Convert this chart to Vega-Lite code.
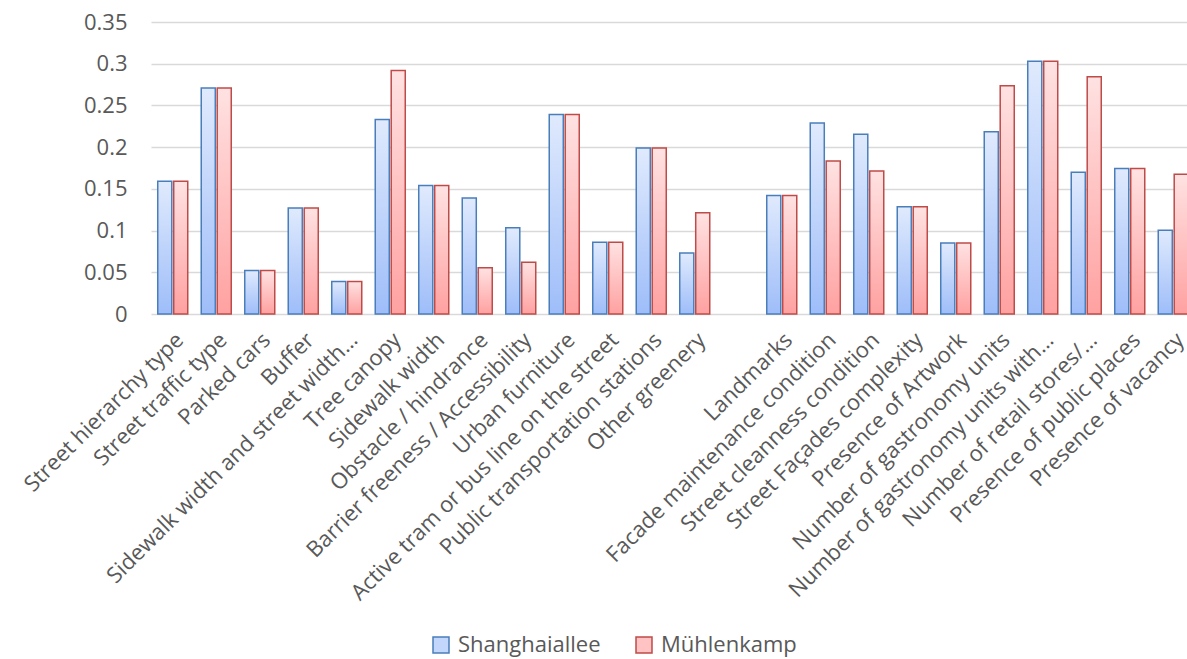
{
  "$schema": "https://vega.github.io/schema/vega-lite/v6.json",
  "width": 1036,
  "height": 292,
  "autosize": {"type": "none"},
  "padding": {"left": 151, "top": 22, "right": 0, "bottom": 345},
  "background": "white",
  "config": {"view": {"stroke": null}, "font": "Open Sans"},
  "data": {
    "values": [
      {"cat": "Street hierarchy type", "series": "Shanghaiallee", "value": 0.159},
      {"cat": "Street hierarchy type", "series": "Mühlenkamp", "value": 0.159},
      {"cat": "Street traffic type", "series": "Shanghaiallee", "value": 0.271},
      {"cat": "Street traffic type", "series": "Mühlenkamp", "value": 0.271},
      {"cat": "Parked cars", "series": "Shanghaiallee", "value": 0.052},
      {"cat": "Parked cars", "series": "Mühlenkamp", "value": 0.052},
      {"cat": "Buffer", "series": "Shanghaiallee", "value": 0.127},
      {"cat": "Buffer", "series": "Mühlenkamp", "value": 0.127},
      {"cat": "Sidewalk width and street width…", "series": "Shanghaiallee", "value": 0.039},
      {"cat": "Sidewalk width and street width…", "series": "Mühlenkamp", "value": 0.039},
      {"cat": "Tree canopy", "series": "Shanghaiallee", "value": 0.233},
      {"cat": "Tree canopy", "series": "Mühlenkamp", "value": 0.292},
      {"cat": "Sidewalk width", "series": "Shanghaiallee", "value": 0.154},
      {"cat": "Sidewalk width", "series": "Mühlenkamp", "value": 0.154},
      {"cat": "Obstacle / hindrance", "series": "Shanghaiallee", "value": 0.139},
      {"cat": "Obstacle / hindrance", "series": "Mühlenkamp", "value": 0.0555},
      {"cat": "Barrier freeness / Accessibility", "series": "Shanghaiallee", "value": 0.1035},
      {"cat": "Barrier freeness / Accessibility", "series": "Mühlenkamp", "value": 0.062},
      {"cat": "Urban furniture", "series": "Shanghaiallee", "value": 0.239},
      {"cat": "Urban furniture", "series": "Mühlenkamp", "value": 0.239},
      {"cat": "Active tram or bus line on the street", "series": "Shanghaiallee", "value": 0.086},
      {"cat": "Active tram or bus line on the street", "series": "Mühlenkamp", "value": 0.086},
      {"cat": "Public transportation stations", "series": "Shanghaiallee", "value": 0.199},
      {"cat": "Public transportation stations", "series": "Mühlenkamp", "value": 0.199},
      {"cat": "Other greenery", "series": "Shanghaiallee", "value": 0.073},
      {"cat": "Other greenery", "series": "Mühlenkamp", "value": 0.1215},
      {"cat": "Landmarks", "series": "Shanghaiallee", "value": 0.142},
      {"cat": "Landmarks", "series": "Mühlenkamp", "value": 0.142},
      {"cat": "Facade maintenance condition", "series": "Shanghaiallee", "value": 0.229},
      {"cat": "Facade maintenance condition", "series": "Mühlenkamp", "value": 0.1835},
      {"cat": "Street cleanness condition", "series": "Shanghaiallee", "value": 0.2155},
      {"cat": "Street cleanness condition", "series": "Mühlenkamp", "value": 0.1715},
      {"cat": "Street Façades complexity", "series": "Shanghaiallee", "value": 0.1285},
      {"cat": "Street Façades complexity", "series": "Mühlenkamp", "value": 0.1285},
      {"cat": "Presence of Artwork", "series": "Shanghaiallee", "value": 0.085},
      {"cat": "Presence of Artwork", "series": "Mühlenkamp", "value": 0.085},
      {"cat": "Number of gastronomy units", "series": "Shanghaiallee", "value": 0.2185},
      {"cat": "Number of gastronomy units", "series": "Mühlenkamp", "value": 0.2735},
      {"cat": "Number of gastronomy units with…", "series": "Shanghaiallee", "value": 0.303},
      {"cat": "Number of gastronomy units with…", "series": "Mühlenkamp", "value": 0.303},
      {"cat": "Number of retail stores/…", "series": "Shanghaiallee", "value": 0.170},
      {"cat": "Number of retail stores/…", "series": "Mühlenkamp", "value": 0.2845},
      {"cat": "Presence of public places", "series": "Shanghaiallee", "value": 0.1745},
      {"cat": "Presence of public places", "series": "Mühlenkamp", "value": 0.1745},
      {"cat": "Presence of vacancy", "series": "Shanghaiallee", "value": 0.1005},
      {"cat": "Presence of vacancy", "series": "Mühlenkamp", "value": 0.1675}
    ]
  },
  "encoding": {
    "x": {
      "field": "cat",
      "type": "nominal",
      "scale": {
        "domain": ["Street hierarchy type", "Street traffic type", "Parked cars", "Buffer", "Sidewalk width and street width…", "Tree canopy", "Sidewalk width", "Obstacle / hindrance", "Barrier freeness / Accessibility", "Urban furniture", "Active tram or bus line on the street", "Public transportation stations", "Other greenery", " ", "Landmarks", "Facade maintenance condition", "Street cleanness condition", "Street Façades complexity", "Presence of Artwork", "Number of gastronomy units", "Number of gastronomy units with…", "Number of retail stores/…", "Presence of public places", "Presence of vacancy"],
        "range": [0, 1044],
        "paddingInner": 0.31,
        "paddingOuter": 0.155
      },
      "axis": {"title": null, "labelAngle": -45, "ticks": false, "domain": false, "labelFontSize": 22, "labelColor": "#595959", "labelPadding": 15, "labelLimit": 0}
    },
    "xOffset": {"field": "series", "type": "nominal", "scale": {"domain": ["Shanghaiallee", "Mühlenkamp"], "paddingInner": 0.12}},
    "y": {
      "field": "value",
      "type": "quantitative",
      "scale": {"domain": [0, 0.35]},
      "axis": {"title": null, "values": [0, 0.05, 0.1, 0.15, 0.2, 0.25, 0.3, 0.35], "format": "~g", "grid": true, "gridColor": "#d9d9d9", "gridWidth": 1.5, "domain": false, "ticks": false, "labelFontSize": 22, "labelColor": "#595959", "labelPadding": 24}
    },
    "stroke": {
      "field": "series",
      "type": "nominal",
      "scale": {"domain": ["Shanghaiallee", "Mühlenkamp"], "range": ["#4a7ebb", "#be4b48"]},
      "legend": {"title": null, "orient": "none", "legendX": 279, "legendY": 612, "direction": "horizontal", "symbolType": "square", "symbolSize": 256, "symbolStrokeWidth": 1.5, "labelFontSize": 22, "labelColor": "#595959", "columnPadding": 32, "labelOffset": 6}
    }
  },
  "layer": [
    {
      "transform": [{"filter": "datum.value < 0"}],
      "mark": {"type": "bar", "strokeWidth": 1.5},
      "encoding": {
        "fill": {
          "field": "series",
          "type": "nominal",
          "scale": {"domain": ["Shanghaiallee", "Mühlenkamp"], "range": ["#c3d6fb", "#ffc3c3"]},
          "legend": {"title": null, "orient": "none", "legendX": 279, "legendY": 612, "direction": "horizontal", "symbolType": "square", "symbolSize": 256, "symbolStrokeWidth": 1.5, "labelFontSize": 22, "labelColor": "#595959", "columnPadding": 32, "labelOffset": 6}
        }
      }
    },
    {
      "transform": [{"filter": "datum.series === 'Shanghaiallee'"}],
      "mark": {"type": "bar", "strokeWidth": 1.5, "fill": {"gradient": "linear", "x1": 0, "y1": 0, "x2": 0, "y2": 1, "stops": [{"offset": 0, "color": "#e0eafd"}, {"offset": 1, "color": "#9ebdf9"}]}}
    },
    {
      "transform": [{"filter": "datum.series === 'Mühlenkamp'"}],
      "mark": {"type": "bar", "strokeWidth": 1.5, "fill": {"gradient": "linear", "x1": 0, "y1": 0, "x2": 0, "y2": 1, "stops": [{"offset": 0, "color": "#ffe2e2"}, {"offset": 1, "color": "#ffa1a1"}]}}
    }
  ]
}
